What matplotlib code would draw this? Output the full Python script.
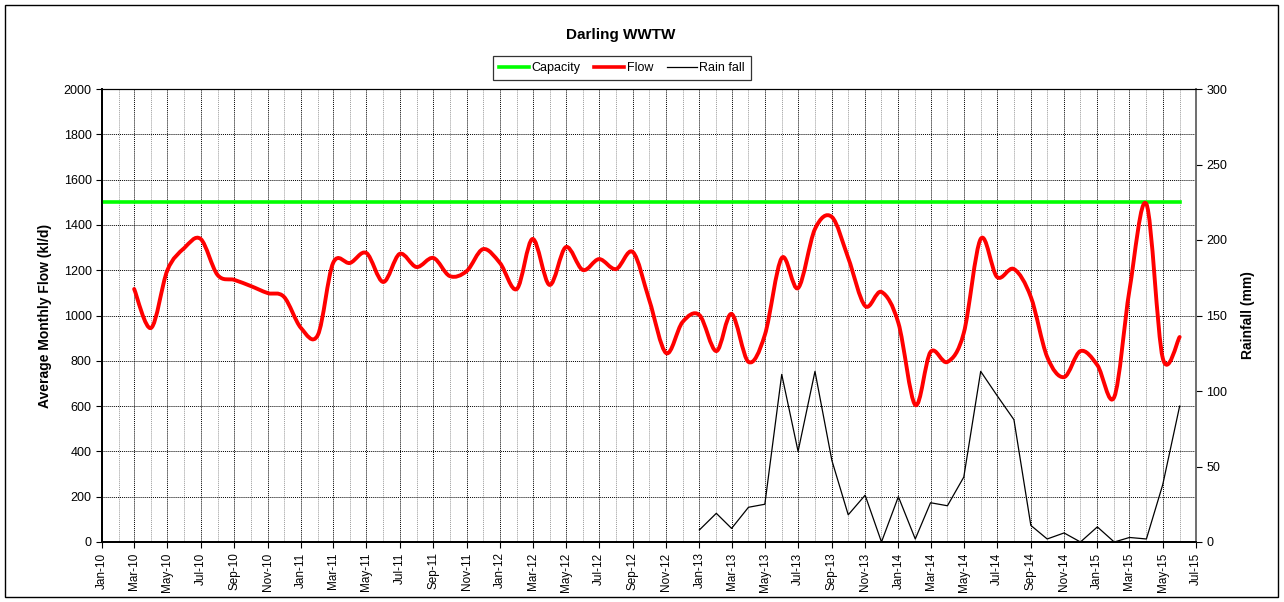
import numpy as np
import pandas as pd
import matplotlib
matplotlib.use("Agg")
import matplotlib.pyplot as plt
import matplotlib.dates as mdates
from matplotlib.path import Path
from matplotlib.patches import PathPatch, Rectangle
from matplotlib.lines import Line2D

plt.rcParams['font.family'] = ['Liberation Sans', 'DejaVu Sans']

# monthly average flow (kl/d), Mar-10 .. Jun-15
flow_months = pd.date_range("2010-03-01", "2015-06-01", freq="MS")
flow = [1117, 945, 1200, 1298, 1338, 1179, 1157, 1130, 1099, 1082,
        945, 914, 1232, 1232, 1276, 1148, 1272, 1214, 1254, 1174, 1196, 1293,
        1232, 1117, 1338, 1135, 1302, 1201, 1249, 1205, 1280, 1068, 834, 971,
        1002, 843, 1007, 795, 914, 1254, 1121, 1382, 1435, 1254, 1042, 1104,
        967, 605, 839, 795, 923, 1338, 1170, 1205, 1082, 817, 728, 843,
        781, 640, 1113, 1492, 812, 905]

# monthly rainfall (mm), Jan-13 .. Jun-15
rain_months = pd.date_range("2013-01-01", "2015-06-01", freq="MS")
rain = [8, 19, 9, 23, 25, 111, 60, 113, 54, 18, 31, 0,
        30, 2, 26, 24, 43, 113, 97, 81, 11, 2, 6, 0,
        10, 0, 3, 2, 38, 90]

capacity_months = pd.to_datetime(["2010-01-01", "2015-06-01"])
capacity = [1500, 1500]


def smooth_path(x, y):
    # Excel-style smoothed line: cubic bezier segments through every point
    x = np.asarray(x, float)
    y = np.asarray(y, float)
    n = len(x)
    verts = [(x[0], y[0])]
    codes = [Path.MOVETO]
    for i in range(n - 1):
        xa, ya = (x[i - 1], y[i - 1]) if i > 0 else (x[i], y[i])
        xb, yb = (x[i + 2], y[i + 2]) if i + 2 < n else (x[i + 1], y[i + 1])
        c1 = (x[i] + (x[i + 1] - xa) / 6, y[i] + (y[i + 1] - ya) / 6)
        c2 = (x[i + 1] - (xb - x[i]) / 6, y[i + 1] - (yb - y[i]) / 6)
        verts += [c1, c2, (x[i + 1], y[i + 1])]
        codes += [Path.CURVE4] * 3
    return Path(verts, codes)


fig = plt.figure(figsize=(12.84, 6.02), dpi=100)
ax = fig.add_axes([102 / 1284, 1 - 542 / 602, 1094 / 1284, 453 / 602])
ax2 = ax.twinx()

ax.plot(capacity_months, capacity, color="#00ff00", lw=2.6, zorder=3)
fx = mdates.date2num(flow_months.to_pydatetime())
ax.add_patch(PathPatch(smooth_path(fx, flow), fill=False, edgecolor="#ff0000",
                       lw=2.8, capstyle="round", joinstyle="round", zorder=4))
ax2.plot(rain_months, rain, color="black", lw=0.9, zorder=5)

ax.set_xlim(pd.Timestamp("2010-01-01"), pd.Timestamp("2015-07-01"))
ax.set_ylim(0, 2000)
ax.set_yticks(np.arange(0, 2001, 200))
ax2.set_ylim(0, 300)
ax2.set_yticks(np.arange(0, 301, 50))

ax.xaxis.set_major_locator(mdates.MonthLocator(bymonth=[1, 3, 5, 7, 9, 11]))
ax.xaxis.set_minor_locator(mdates.MonthLocator())
ax.xaxis.set_major_formatter(mdates.DateFormatter("%b-%y"))
ax.tick_params(axis="x", which="major", labelrotation=90, labelsize=8.5, length=4)
ax.tick_params(axis="x", which="minor", length=0)
ax.tick_params(axis="y", labelsize=9, length=4)
ax2.tick_params(axis="y", labelsize=9, length=4)

ax.grid(which="major", axis="x", color="black", linestyle=(0, (1, 1)), lw=0.7)
ax.grid(which="minor", axis="x", color="#9a9a9a", linestyle=(0, (1, 1)), lw=0.7)
ax.grid(which="major", axis="y", color="black", linestyle=(0, (1, 1)), lw=0.7)
ax.set_axisbelow(True)

for a in (ax, ax2):
    a.spines["left"].set_linewidth(1.3)
    a.spines["bottom"].set_linewidth(1.3)
    a.spines["right"].set_color("#707070")
    a.spines["right"].set_linewidth(1.3)

ax.set_ylabel("Average Monthly Flow (kl/d)", fontsize=10, fontweight="bold", labelpad=8)
ax2.set_ylabel("Rainfall (mm)", fontsize=10, fontweight="bold", labelpad=10)

fig.text(621 / 1284, 1 - 35 / 602, "Darling WWTW", ha="center", va="center",
         fontsize=11, fontweight="bold")

handles = [Line2D([], [], color="#00ff00", lw=2.6),
           Line2D([], [], color="#ff0000", lw=2.6),
           Line2D([], [], color="black", lw=0.9)]
leg = fig.legend(handles, ["Capacity", "Flow", "Rain fall"], ncol=3,
                 loc="center", bbox_to_anchor=(622 / 1284, 1 - 68 / 602),
                 fontsize=9, frameon=True, fancybox=False, shadow=False,
                 handlelength=2.4, handletextpad=0.2, columnspacing=1.1,
                 borderpad=0.45, borderaxespad=0)
leg.get_frame().set_edgecolor("black")
leg.get_frame().set_linewidth(0.9)

fig.patches.append(Rectangle((5 / 1284, 5 / 602), 1273 / 1284, 592 / 602,
                             transform=fig.transFigure, fill=False,
                             edgecolor="black", lw=1.0))

fig.savefig("out.png", dpi=100)
